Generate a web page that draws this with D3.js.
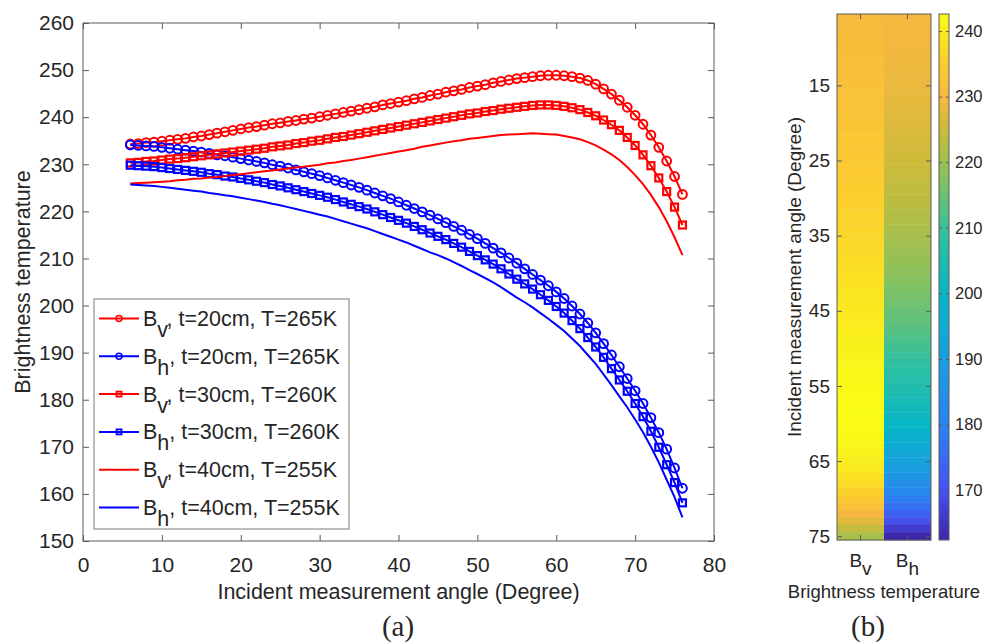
<!DOCTYPE html>
<html>
<head>
<meta charset="utf-8">
<script src="https://cdn.jsdelivr.net/npm/d3@7"></script>
<style>
  body { margin: 0; background: #fff; }
  svg text { fill: #262626; }
</style>
</head>
<body>
<svg width="983" height="643" font-family="Arial, 'Liberation Sans', sans-serif"></svg>
<script>
// incident angles (degree)
var angles = [6, 7, 8, 9, 10, 11, 12, 13, 14, 15, 16, 17, 18, 19, 20, 21, 22, 23, 24, 25,
  26, 27, 28, 29, 30, 31, 32, 33, 34, 35, 36, 37, 38, 39, 40, 41, 42, 43, 44, 45,
  46, 47, 48, 49, 50, 51, 52, 53, 54, 55, 56, 57, 58, 59, 60, 61, 62, 63, 64, 65,
  66, 67, 68, 69, 70, 71, 72, 73, 74, 75, 76];

// brightness temperature
var bv20 = [234.3, 234.4, 234.6, 234.7, 234.9, 235.1, 235.3, 235.5, 235.8, 236.0,
  236.3, 236.6, 236.9, 237.2, 237.5, 237.8, 238.0, 238.3, 238.6, 238.8,
  239.1, 239.3, 239.6, 239.8, 240.1, 240.4, 240.7, 241.0, 241.3, 241.6,
  241.9, 242.2, 242.6, 242.9, 243.2, 243.5, 243.9, 244.2, 244.6, 244.9,
  245.3, 245.6, 245.9, 246.3, 246.6, 246.9, 247.3, 247.6, 247.9, 248.2,
  248.4, 248.6, 248.8, 248.9, 248.9, 248.8, 248.6, 248.3, 247.8, 247.0,
  246.0, 244.9, 243.6, 242.1, 240.4, 238.5, 236.2, 233.6, 230.7, 227.4, 223.6];
var bh20 = [234.1, 234.0, 233.9, 233.8, 233.6, 233.4, 233.2, 233.0, 232.8, 232.6,
  232.3, 232.0, 231.8, 231.5, 231.2, 230.9, 230.6, 230.3, 229.9, 229.6,
  229.2, 228.8, 228.4, 228.0, 227.6, 227.1, 226.6, 226.1, 225.6, 225.1,
  224.5, 223.9, 223.3, 222.7, 222.0, 221.3, 220.6, 219.9, 219.2, 218.4,
  217.6, 216.8, 216.0, 215.1, 214.2, 213.2, 212.2, 211.2, 210.1, 209.0,
  207.8, 206.6, 205.4, 204.2, 202.9, 201.5, 199.9, 198.2, 196.3, 194.2,
  191.9, 189.5, 187.0, 184.5, 181.9, 179.2, 176.2, 173.0, 169.5, 165.5, 161.2];
var bv30 = [230.3, 230.4, 230.6, 230.7, 230.9, 231.1, 231.2, 231.4, 231.6, 231.8,
  232.0, 232.2, 232.4, 232.6, 232.8, 233.0, 233.2, 233.4, 233.7, 233.9,
  234.1, 234.4, 234.6, 234.9, 235.1, 235.4, 235.7, 235.9, 236.2, 236.5,
  236.8, 237.1, 237.4, 237.7, 238.0, 238.3, 238.6, 238.9, 239.2, 239.5,
  239.8, 240.1, 240.4, 240.7, 240.9, 241.2, 241.4, 241.7, 241.9, 242.1,
  242.3, 242.5, 242.6, 242.6, 242.5, 242.3, 242.0, 241.6, 241.0, 240.3,
  239.4, 238.4, 237.2, 235.7, 234.0, 232.0, 229.7, 227.1, 224.2, 220.9, 217.1];
var bh30 = [229.8, 229.7, 229.6, 229.5, 229.3, 229.1, 228.9, 228.7, 228.5, 228.3,
  228.0, 227.8, 227.5, 227.3, 227.0, 226.7, 226.4, 226.1, 225.7, 225.4,
  225.0, 224.6, 224.2, 223.8, 223.4, 223.0, 222.5, 222.0, 221.5, 221.0,
  220.5, 219.9, 219.3, 218.7, 218.1, 217.5, 216.8, 216.1, 215.4, 214.7,
  214.0, 213.2, 212.4, 211.5, 210.6, 209.7, 208.8, 207.8, 206.7, 205.6,
  204.6, 203.5, 202.3, 201.1, 199.8, 198.4, 196.8, 195.1, 193.2, 191.2,
  189.0, 186.6, 184.2, 181.8, 179.2, 176.4, 173.3, 169.9, 166.2, 162.4, 158.1];
var bv40 = [225.9, 226.0, 226.1, 226.2, 226.3, 226.4, 226.6, 226.7, 226.9, 227.0,
  227.2, 227.3, 227.5, 227.7, 227.9, 228.1, 228.3, 228.5, 228.7, 228.9,
  229.1, 229.3, 229.5, 229.7, 229.9, 230.2, 230.4, 230.7, 230.9, 231.2,
  231.5, 231.8, 232.1, 232.4, 232.7, 233.0, 233.3, 233.7, 234.0, 234.3,
  234.6, 234.9, 235.1, 235.4, 235.6, 235.8, 236.0, 236.2, 236.3, 236.4,
  236.5, 236.6, 236.5, 236.4, 236.3, 236.0, 235.7, 235.3, 234.7, 234.0,
  233.1, 232.1, 230.9, 229.4, 227.7, 225.8, 223.5, 220.9, 217.9, 214.5, 210.7];
var bh40 = [225.7, 225.6, 225.5, 225.4, 225.2, 225.0, 224.8, 224.6, 224.4, 224.2,
  223.9, 223.7, 223.4, 223.2, 222.9, 222.6, 222.3, 222.0, 221.6, 221.3,
  220.9, 220.5, 220.1, 219.7, 219.3, 218.9, 218.4, 217.9, 217.4, 216.9,
  216.4, 215.8, 215.2, 214.6, 214.0, 213.4, 212.7, 212.0, 211.3, 210.7,
  210.0, 209.2, 208.4, 207.5, 206.7, 205.8, 204.9, 203.9, 202.8, 201.7,
  200.7, 199.6, 198.4, 197.2, 195.9, 194.6, 193.0, 191.4, 189.5, 187.6,
  185.4, 183.1, 180.7, 178.4, 175.8, 173.1, 170.0, 166.7, 163.0, 159.3, 155.0];

var legendPol = ["v", "h", "v", "h", "v", "h"];
var legendRest = [", t=20cm, T=265K", ", t=20cm, T=265K", ", t=30cm, T=260K",
  ", t=30cm, T=260K", ", t=40cm, T=255K", ", t=40cm, T=255K"];

var xTicks = [0, 10, 20, 30, 40, 50, 60, 70, 80];
var yTicks = [150, 160, 170, 180, 190, 200, 210, 220, 230, 240, 250, 260];

// panel (b): the t=30cm pair, 6..75 degree
var mapAngles = angles.slice(0, 70);
var mapBv = bv30.slice(0, 70);
var mapBh = bh30.slice(0, 70);
var mapColumns = ["v", "h"];
var mapTicks = [15, 25, 35, 45, 55, 65, 75];
var barTicks = [170, 180, 190, 200, 210, 220, 230, 240];

var svg = d3.select("svg");

// ---------- panel (a) ----------
var box = {left: 83, top: 23, right: 714, bottom: 541};

var x = d3.scaleLinear().domain([0, 80]).range([box.left, box.right]);
var y = d3.scaleLinear().domain([150, 260]).range([box.bottom, box.top]);

var axisColor = "#5a5a5a";

function styleAxis(g, size) {
  g.select(".domain").remove();
  g.attr("font-family", null);
  g.selectAll(".tick line").attr("stroke", axisColor);
  g.selectAll(".tick text").attr("font-size", size).attr("fill", "#262626");
}

svg.append("g")
    .attr("transform", "translate(0," + box.bottom + ")")
    .call(d3.axisBottom(x).tickValues(xTicks).tickSizeInner(-6).tickSizeOuter(0).tickPadding(16))
    .call(styleAxis, 21);
svg.append("g")
    .attr("transform", "translate(0," + box.top + ")")
    .call(d3.axisTop(x).tickValues(xTicks).tickSizeInner(-6).tickSizeOuter(0).tickFormat(""))
    .call(styleAxis, 21);
svg.append("g")
    .attr("transform", "translate(" + box.left + ",0)")
    .call(d3.axisLeft(y).tickValues(yTicks).tickSizeInner(-6).tickSizeOuter(0).tickPadding(9))
    .call(styleAxis, 21);
svg.append("g")
    .attr("transform", "translate(" + box.right + ",0)")
    .call(d3.axisRight(y).tickValues(yTicks).tickSizeInner(-6).tickSizeOuter(0).tickFormat(""))
    .call(styleAxis, 21);

svg.append("rect")
    .attr("x", box.left).attr("y", box.top)
    .attr("width", box.right - box.left).attr("height", box.bottom - box.top)
    .attr("fill", "none").attr("stroke", axisColor).attr("stroke-width", 1);

svg.append("text")
    .attr("x", (box.left + box.right) / 2).attr("y", 599)
    .attr("text-anchor", "middle").attr("font-size", 21.5)
    .text("Incident measurement angle (Degree)");
svg.append("text")
    .attr("transform", "translate(30," + (box.top + box.bottom) / 2 + ") rotate(-90)")
    .attr("text-anchor", "middle").attr("font-size", 21.5)
    .text("Brightness temperature");

// curves
var series = [
  {values: bv20, color: "#ff0000", marker: "circle"},
  {values: bh20, color: "#0000ff", marker: "circle"},
  {values: bv30, color: "#ff0000", marker: "square"},
  {values: bh30, color: "#0000ff", marker: "square"},
  {values: bv40, color: "#ff0000", marker: "none"},
  {values: bh40, color: "#0000ff", marker: "none"}
];

var line = d3.line()
    .x(function(d, i) { return x(angles[i]); })
    .y(function(d) { return y(d); });

var curves = svg.append("g").selectAll("g")
    .data(series)
    .enter().append("g");

curves.append("path")
    .attr("d", function(s) { return line(s.values); })
    .attr("fill", "none")
    .attr("stroke", function(s) { return s.color; })
    .attr("stroke-width", 2);

curves.each(function(s) {
  if (s.marker === "none") return;
  var g = d3.select(this);
  if (s.marker === "circle") {
    g.selectAll("circle").data(s.values).enter().append("circle")
        .attr("cx", function(d, i) { return x(angles[i]); })
        .attr("cy", function(d) { return y(d); })
        .attr("r", 4.4)
        .attr("fill", "none").attr("stroke", s.color).attr("stroke-width", 2);
  } else {
    g.selectAll("rect").data(s.values).enter().append("rect")
        .attr("x", function(d, i) { return x(angles[i]) - 3.5; })
        .attr("y", function(d) { return y(d) - 3.5; })
        .attr("width", 7).attr("height", 7)
        .attr("fill", "none").attr("stroke", s.color).attr("stroke-width", 2.2);
  }
});

// legend
var legend = svg.append("g");
legend.append("rect")
    .attr("x", 94).attr("y", 299).attr("width", 255).attr("height", 230)
    .attr("fill", "#fff").attr("stroke", "#7a7a7a").attr("stroke-width", 1);

var rows = legend.selectAll("g.row")
    .data(series)
    .enter().append("g")
      .attr("class", "row")
      .attr("transform", function(d, i) { return "translate(0," + (318.5 + i * 37.8) + ")"; });

rows.append("line")
    .attr("x1", 99).attr("x2", 139)
    .attr("stroke", function(s) { return s.color; })
    .attr("stroke-width", 2);
rows.filter(function(s) { return s.marker === "circle"; }).append("circle")
    .attr("cx", 119).attr("r", 3)
    .attr("fill", "none").attr("stroke", function(s) { return s.color; }).attr("stroke-width", 1.5);
rows.filter(function(s) { return s.marker === "square"; }).append("rect")
    .attr("x", 116.5).attr("y", -2.5).attr("width", 5).attr("height", 5)
    .attr("fill", "none").attr("stroke", function(s) { return s.color; }).attr("stroke-width", 1.8);

var legendText = rows.append("text")
    .attr("x", 143).attr("y", 7.5)
    .attr("font-size", 21.5);
legendText.append("tspan").text("B");
legendText.append("tspan").attr("dy", 11).text(function(d, i) { return legendPol[i]; });
legendText.append("tspan").attr("dy", -11).text(function(d, i) { return legendRest[i]; });

svg.append("text")
    .attr("x", 398).attr("y", 636)
    .attr("text-anchor", "middle")
    .attr("font-family", "'Liberation Serif', 'Times New Roman', serif")
    .attr("font-size", 29)
    .text("(a)");

// ---------- panel (b) ----------
var map = {left: 837, right: 931, top: 14, bottom: 540};

var parulaStops = [0, 0.10, 0.22, 0.34, 0.46, 0.58, 0.70, 0.78, 0.84, 0.90, 1];
var parulaColors = ["#3e26a8", "#4653f2", "#2a83f0", "#1a9ee0", "#06b5c8", "#30c0a0",
  "#90c158", "#cbbb3a", "#f7b83e", "#fbcb30", "#f9fb15"];
var parula = d3.scaleLinear().domain(parulaStops).range(parulaColors).interpolate(d3.interpolateRgb);

var cRange = d3.extent(mapBv.concat(mapBh));
var color = function(v) { return parula((v - cRange[0]) / (cRange[1] - cRange[0])); };

var mx = d3.scaleBand().domain(mapColumns).range([map.left, map.right]);
var my = d3.scaleLinear()
    .domain([mapAngles[0] - 0.5, mapAngles[mapAngles.length - 1] + 0.5])
    .range([map.top, map.bottom]);

var cells = [];
mapAngles.forEach(function(a, i) {
  cells.push({col: "v", angle: a, value: mapBv[i]});
  cells.push({col: "h", angle: a, value: mapBh[i]});
});

svg.append("g").selectAll("rect")
    .data(cells)
    .enter().append("rect")
      .attr("x", function(d) { return mx(d.col); })
      .attr("y", function(d) { return my(d.angle - 0.5); })
      .attr("width", mx.bandwidth())
      .attr("height", function(d) { return my(d.angle + 0.5) - my(d.angle - 0.5) + 0.4; })
      .attr("fill", function(d) { return color(d.value); });

svg.append("g")
    .attr("transform", "translate(" + map.left + ",0)")
    .call(d3.axisLeft(my).tickValues(mapTicks).tickSizeInner(-5).tickSizeOuter(0).tickPadding(7))
    .call(styleAxis, 19);
svg.append("g")
    .attr("transform", "translate(" + map.right + ",0)")
    .call(d3.axisRight(my).tickValues(mapTicks).tickSizeInner(-5).tickSizeOuter(0).tickFormat(""))
    .call(styleAxis, 19);
svg.append("g")
    .attr("transform", "translate(0," + map.top + ")")
    .call(d3.axisTop(mx).tickSizeInner(-5).tickSizeOuter(0).tickFormat(""))
    .call(styleAxis, 19);
svg.append("g")
    .attr("transform", "translate(0," + map.bottom + ")")
    .call(d3.axisBottom(mx).tickSizeInner(-5).tickSizeOuter(0).tickFormat(""))
    .call(styleAxis, 19);

svg.append("rect")
    .attr("x", map.left).attr("y", map.top)
    .attr("width", map.right - map.left).attr("height", map.bottom - map.top)
    .attr("fill", "none").attr("stroke", axisColor).attr("stroke-width", 1);

var colLabels = svg.append("g").selectAll("text")
    .data(mapColumns)
    .enter().append("text")
      .attr("x", function(d) { return mx(d) + mx.bandwidth() / 2; })
      .attr("y", 567)
      .attr("text-anchor", "middle")
      .attr("font-size", 19);
colLabels.append("tspan").text("B");
colLabels.append("tspan").attr("dy", 8).text(function(d) { return d; });

svg.append("text")
    .attr("x", 884).attr("y", 598)
    .attr("text-anchor", "middle").attr("font-size", 18.5)
    .text("Brightness temperature");
svg.append("text")
    .attr("transform", "translate(801," + (map.top + map.bottom) / 2 + ") rotate(-90)")
    .attr("text-anchor", "middle").attr("font-size", 19)
    .text("Incident measurement angle (Degree)");

// colorbar
var bar = {left: 939, right: 949};
var cy = d3.scaleLinear().domain(cRange).range([map.bottom, map.top]);

var grad = svg.append("defs").append("linearGradient")
    .attr("id", "parula").attr("x1", 0).attr("y1", 1).attr("x2", 0).attr("y2", 0);
grad.selectAll("stop")
    .data(parulaStops)
    .enter().append("stop")
      .attr("offset", function(d) { return d; })
      .attr("stop-color", function(d, i) { return parulaColors[i]; });

svg.append("rect")
    .attr("x", bar.left).attr("y", map.top)
    .attr("width", bar.right - bar.left).attr("height", map.bottom - map.top)
    .attr("fill", "url(#parula)")
    .attr("stroke", axisColor).attr("stroke-width", 1);

svg.append("g")
    .attr("transform", "translate(" + bar.right + ",0)")
    .call(d3.axisRight(cy).tickValues(barTicks).tickSizeInner(-3).tickSizeOuter(0).tickPadding(6))
    .call(styleAxis, 16.5);
svg.append("g")
    .attr("transform", "translate(" + bar.left + ",0)")
    .call(d3.axisLeft(cy).tickValues(barTicks).tickSizeInner(-3).tickSizeOuter(0).tickFormat(""))
    .call(styleAxis, 16.5);

svg.append("text")
    .attr("x", 868).attr("y", 636)
    .attr("text-anchor", "middle")
    .attr("font-family", "'Liberation Serif', 'Times New Roman', serif")
    .attr("font-size", 29)
    .text("(b)");
</script>
</body>
</html>
